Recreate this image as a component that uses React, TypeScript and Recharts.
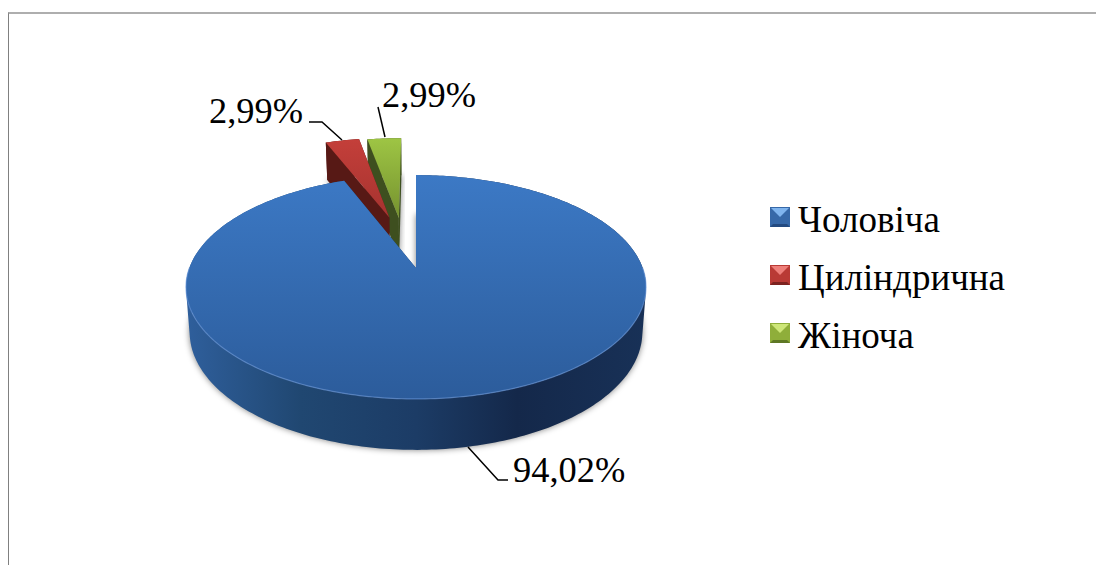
import { Legend, Pie, PieChart } from 'recharts'

const categories = ['Чоловіча', 'Циліндрична', 'Жіноча']
const shares = [94.02, 2.99, 2.99]

// pie paints in list order, so the big slice goes last and stays on top
const drawOrder = [2, 1, 0]
const data = drawOrder.map((i) => ({ name: categories[i], value: shares[i] }))

const FONT = '"Liberation Serif", "Times New Roman", serif'

// perspective of the tilted disc
const PERSPECTIVE = -0.17
const SCALE_X = 226.7
const SCALE_Y = 108.7
const DEPTH = 44
const BASE_SHRINK = 0.016
const RADIUS = 110

const styles: Record<string, any> = {
  Чоловіча: { id: 'blue', shift: [0, 0], wall: '#1d3d68', rim: '#6a9ade', marker: ['#7fb4ee', '#3668a8', '#234a80'] },
  Циліндрична: { id: 'red', shift: [-0.128, -0.505], wall: '#571915', rim: 'none', marker: ['#ee7f7a', '#b93a35', '#7d2320'] },
  Жіноча: { id: 'green', shift: [-0.082, -0.499], wall: '#3e4f1f', rim: 'none', marker: ['#cde678', '#8fae3a', '#5e7825'] },
}

const labels: Record<string, any> = {
  Чоловіча: { x: 97, y: 214, line: [[52, 179], [82, 212], [92, 212]] },
  Циліндрична: { x: -207, y: -145, line: [[-107, -146], [-94, -146], [-74, -128]] },
  Жіноча: { x: -34, y: -161, line: [[-38, -161], [-31, -131]] },
}

function project(cx: number, cy: number, u: number, v: number, h: number) {
  const den = 1 + PERSPECTIVE * v
  const shrink = 1 - BASE_SHRINK * h
  return [
    cx + ((SCALE_X * u) / den) * shrink,
    cy + ((SCALE_Y * v) / den) * shrink + (h * DEPTH) / den,
  ]
}

function SliceShape(props: any) {
  const { cx, cy, startAngle, endAngle, outerRadius, name } = props
  const style = styles[name]
  const [su, sv] = style.shift
  const r = outerRadius / RADIUS

  const rimPoint = (deg: number, h: number) => {
    const a = (deg * Math.PI) / 180
    return project(cx, cy, su + r * Math.cos(a), sv - r * Math.sin(a), h)
  }
  const arc = (from: number, to: number, h: number) => {
    const steps = Math.max(4, Math.ceil(Math.abs(to - from)))
    const out: number[][] = []
    for (let i = 0; i <= steps; i++) out.push(rimPoint(from + ((to - from) * i) / steps, h))
    return out
  }
  const toPath = (pts: number[][]) =>
    'M' + pts.map((p) => `${p[0].toFixed(2)} ${p[1].toFixed(2)}`).join('L') + 'Z'

  const apexTop = project(cx, cy, su, sv, 0)
  const apexBase = project(cx, cy, su, sv, 1)
  const top = [apexTop, ...arc(startAngle, endAngle, 0)]
  const base = [apexBase, ...arc(startAngle, endAngle, 1)]
  const wallA = [apexTop, rimPoint(startAngle, 0), rimPoint(startAngle, 1), apexBase]
  const wallB = [apexTop, rimPoint(endAngle, 0), rimPoint(endAngle, 1), apexBase]

  // outer wall as one strip per step, so the silhouette stays closed at the sides
  const upper = arc(startAngle, endAngle, 0)
  const lower = arc(startAngle, endAngle, 1)
  const side = upper
    .slice(1)
    .map((p, i) => {
      const cross =
        (p[0] - upper[i][0]) * (lower[i][1] - upper[i][1]) - (p[1] - upper[i][1]) * (lower[i][0] - upper[i][0])
      return toPath(cross > 0 ? [upper[i], p, lower[i + 1], lower[i]] : [lower[i], lower[i + 1], p, upper[i]])
    })
    .join('')

  // front part of the rim catches the light
  const frontFrom = Math.max(startAngle, 180)
  const frontTo = Math.min(endAngle, 360)
  const rimLine = frontTo > frontFrom ? arc(frontFrom, frontTo, 0) : []

  return (
    <g>
      <path d={toPath(base)} fill="#000" fillOpacity={0.5} filter="url(#softShadow)" />
      <path d={toPath(wallA)} fill={style.wall} />
      <path d={toPath(wallB)} fill={style.wall} />
      <path d={side} fill={`url(#${style.id}Side)`} />
      <path d={toPath(top)} fill={`url(#${style.id}Top)`} />
      {rimLine.length > 0 && style.rim !== 'none' && (
        <polyline
          points={rimLine.map((p) => p.join(',')).join(' ')}
          fill="none"
          stroke={style.rim}
          strokeWidth={1.2}
          strokeOpacity={0.6}
        />
      )}
    </g>
  )
}

function SliceLabel(props: any) {
  const { cx, cy, name, value } = props
  const spot = labels[name]
  return (
    <g>
      <polyline
        points={spot.line.map((p: number[]) => `${cx + p[0]},${cy + p[1]}`).join(' ')}
        fill="none"
        stroke="#000"
        strokeWidth={1.5}
      />
      <text x={cx + spot.x} y={cy + spot.y} fontFamily={FONT} fontSize={36.4} fill="#000">
        {value.toFixed(2).replace('.', ',')}%
      </text>
    </g>
  )
}

function BevelMarker({ colors }: { colors: string[] }) {
  return (
    <svg width={20} height={20} style={{ display: 'block', marginRight: 8, flex: 'none' }}>
      <rect width={20} height={20} fill={colors[1]} />
      <polygon points="1,1 19,1 10,10" fill={colors[0]} />
      <polygon points="0,20 3,17 17,17 20,20" fill={colors[2]} />
    </svg>
  )
}

function ChartLegend() {
  return (
    <div style={{ fontFamily: FONT, fontSize: 37, color: '#000' }}>
      {categories.map((name) => (
        <div key={name} style={{ position: 'relative', display: 'flex', alignItems: 'center', height: 58, whiteSpace: 'nowrap' }}>
          <BevelMarker colors={styles[name].marker} />
          <span style={{ position: 'relative', top: 2 }}>{name}</span>
        </div>
      ))}
    </div>
  )
}

export default function App() {
  return (
    <div style={{ position: 'absolute', left: 0, top: 0, width: 1096, height: 565, overflow: 'hidden', background: '#fff' }}>
      <div
        style={{
          position: 'absolute',
          left: 8,
          top: 12,
          right: 0,
          bottom: 0,
          borderTop: '2px solid #aeaeae',
          borderLeft: '1px solid #808080',
        }}
      />
      <PieChart width={1096} height={565} margin={{ top: 0, right: 0, bottom: 0, left: 0 }} style={{ position: 'absolute', left: 0, top: 0 }}>
        <defs>
          <filter id="softShadow" x="-10%" y="-10%" width="120%" height="120%">
            <feGaussianBlur stdDeviation="3" />
          </filter>
          <linearGradient id="blueTop" x1="0" y1="0" x2="0" y2="1">
            <stop offset="0%" stopColor="#3c79c5" />
            <stop offset="100%" stopColor="#2c5c9b" />
          </linearGradient>
          <linearGradient id="blueSide" x1="0" y1="0" x2="1" y2="0">
            <stop offset="0%" stopColor="#2f5f9c" />
            <stop offset="25%" stopColor="#204771" />
            <stop offset="50%" stopColor="#1c3c66" />
            <stop offset="72%" stopColor="#14284a" />
            <stop offset="100%" stopColor="#183157" />
          </linearGradient>
          <linearGradient id="redTop" x1="0" y1="0" x2="0" y2="1">
            <stop offset="0%" stopColor="#c43f3a" />
            <stop offset="100%" stopColor="#a6332f" />
          </linearGradient>
          <linearGradient id="redSide" x1="0" y1="0" x2="1" y2="0">
            <stop offset="0%" stopColor="#571915" />
            <stop offset="100%" stopColor="#571915" />
          </linearGradient>
          <linearGradient id="greenTop" x1="0" y1="0" x2="0" y2="1">
            <stop offset="0%" stopColor="#9ec544" />
            <stop offset="100%" stopColor="#76922f" />
          </linearGradient>
          <linearGradient id="greenSide" x1="0" y1="0" x2="1" y2="0">
            <stop offset="0%" stopColor="#3e4f1f" />
            <stop offset="100%" stopColor="#3e4f1f" />
          </linearGradient>
        </defs>
        <Pie
          data={data}
          dataKey="value"
          nameKey="name"
          cx={416}
          cy={268}
          outerRadius={RADIUS}
          startAngle={90}
          endAngle={450}
          stroke="none"
          shape={SliceShape}
          label={SliceLabel}
          labelLine={false}
          isAnimationActive={false}
        />
        <Legend
          layout="vertical"
          align="right"
          verticalAlign="top"
          content={ChartLegend}
          wrapperStyle={{ left: 770, top: 188, width: 300 }}
        />
      </PieChart>
    </div>
  )
}
